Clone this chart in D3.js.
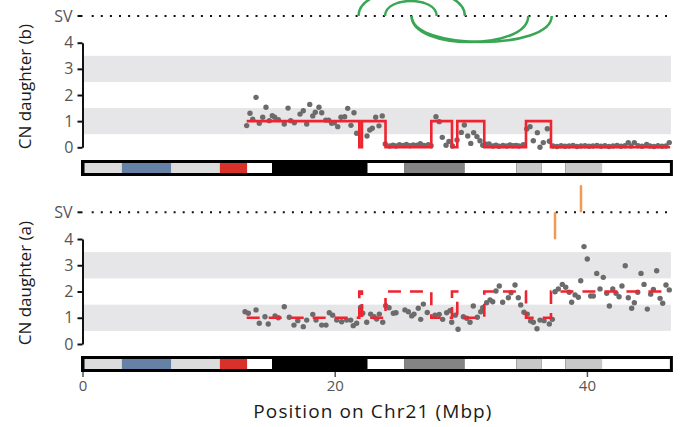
<!DOCTYPE html>
<html>
<head>
<meta charset="utf-8">
<script src="https://cdn.jsdelivr.net/npm/d3@7"></script>
<style>
  body { margin: 0; background: #fff; }
  text { font-family: "Open Sans", sans-serif; }
</style>
</head>
<body>
<svg id="chart" width="680" height="427"></svg>
<script>
const width = 680, height = 427;
const chrLen = 46.7;   // Chr21 length, Mbp

// copy number segments: breakpoints (Mbp) and CN of each segment
const segBreaks = [13.02, 21.95, 22.16, 24.03, 27.66, 29.30, 29.72, 31.86, 35.17, 37.15, 46.6];
const segCnB = [1, 0, 1, 0, 1, 0, 1, 0, 1, 0];
const segCnA = [1, 2, 1, 2, 1, 2, 1, 2, 1, 2];

// binned read depth, daughter (b)
const posB = [13.02, 13.28, 13.50, 13.76, 14.02, 14.29, 14.55, 14.81, 15.05, 15.24, 15.53, 16.00, 16.30, 16.51, 16.80,
  17.25, 17.51, 17.78, 18.02, 18.26, 18.46, 18.75, 18.97, 19.29, 19.52, 19.76, 19.97, 20.24, 20.50, 20.79, 21.03, 21.29,
  21.53, 21.74, 22.56, 22.78, 22.98, 23.25, 23.51, 23.77, 24.01, 24.36, 24.62, 24.86, 25.14, 25.44, 25.69, 25.97, 26.23,
  26.53, 26.79, 27.08, 27.42, 27.64, 28.03, 28.29, 28.53, 28.83, 29.06, 29.34, 29.70, 30.04, 30.28, 30.55, 30.79, 31.02,
  31.28, 31.52, 31.74, 32.00, 32.24, 32.55, 32.79, 33.03, 33.35, 33.64, 33.90, 34.14, 34.38, 34.61, 34.96, 35.23, 35.49,
  35.75, 36.07, 36.28, 36.54, 36.86, 37.02, 37.31, 37.63, 37.95, 38.26, 38.58, 38.90, 39.21, 39.53, 39.85, 40.17, 40.48,
  40.80, 41.12, 41.43, 41.75, 42.07, 42.39, 42.70, 43.02, 43.28, 43.50, 43.76, 44.05, 44.37, 44.74, 45.00, 45.32, 45.64,
  45.96, 46.27, 46.53];
const cnB = [0.83, 1.30, 1.07, 1.91, 0.92, 1.15, 1.53, 1.02, 1.21, 1.15, 1.06, 0.89, 1.50, 1.02, 0.94,
  1.27, 1.40, 0.89, 1.64, 1.20, 1.34, 1.53, 1.32, 1.04, 1.04, 0.92, 0.94, 0.79, 1.15, 1.17, 1.49, 0.84,
  1.32, 0.54, 0.43, 0.66, 0.73, 1.15, 0.82, 1.20, 0.13, 0.05, 0.08, 0.05, 0.10, 0.07, 0.11, 0.06, 0.09,
  0.08, 0.14, 0.07, 0.10, 0.06, 1.17, 0.98, 0.38, 0.08, 0.22, 0.05, 0.28, 0.57, 0.85, 0.43, 0.15, 0.56,
  0.41, 0.25, 0.08, 0.12, 0.13, 0.05, 0.08, 0.04, 0.07, 0.05, 0.09, 0.06, 0.07, 0.05, 0.10, 0.70, 0.79,
  0.25, 0.56, 0.00, 0.18, 0.71, 0.23, 0.05, 0.03, 0.06, 0.04, 0.05, 0.07, 0.03, 0.05, 0.06, 0.04, 0.05,
  0.07, 0.04, 0.06, 0.03, 0.05, 0.07, 0.04, 0.06, 0.18, 0.05, 0.18, 0.06, 0.04, 0.11, 0.05, 0.03, 0.06,
  0.04, 0.05, 0.18];

// binned read depth, daughter (a)
const posA = [12.89, 13.15, 13.76, 14.02, 14.47, 14.73, 15.27, 15.53, 16.00, 16.40, 16.77, 17.07, 17.51, 17.78, 18.26,
  18.52, 18.97, 19.31, 19.57, 19.84, 20.16, 20.55, 20.95, 21.27, 21.47, 21.74, 22.06, 22.22, 22.54, 22.85, 23.12, 23.33,
  23.54, 23.81, 24.04, 24.31, 24.65, 24.86, 25.57, 25.84, 26.11, 26.29, 26.63, 26.82, 27.03, 27.34, 27.95, 28.29, 28.56,
  28.88, 29.14, 29.28, 29.56, 29.78, 30.20, 30.47, 30.73, 30.99, 31.31, 31.58, 31.74, 32.05, 32.32, 32.53, 32.79, 33.05,
  33.32, 33.77, 33.98, 34.30, 34.56, 34.75, 35.01, 35.27, 35.54, 35.75, 36.04, 36.28, 36.60, 37.02, 37.26, 37.47, 37.73,
  38.05, 38.32, 38.60, 38.79, 39.06, 39.32, 39.51, 39.77, 40.03, 40.30, 40.51, 40.78, 41.04, 41.30, 41.57, 41.78, 42.05,
  42.31, 42.55, 42.78, 43.04, 43.28, 43.55, 43.76, 44.03, 44.29, 44.53, 44.79, 45.06, 45.27, 45.53, 45.80, 46.01, 46.27,
  46.53];
const cnA = [1.23, 1.17, 1.30, 0.79, 1.04, 0.76, 1.07, 1.00, 1.42, 1.02, 0.72, 0.89, 0.66, 0.91, 1.13,
  0.91, 0.72, 0.72, 1.19, 1.10, 0.91, 0.85, 0.91, 0.91, 0.70, 0.79, 1.40, 1.17, 0.83, 1.14, 1.04, 0.95,
  1.14, 0.83, 1.46, 1.38, 1.17, 1.19, 1.30, 1.23, 1.07, 1.14, 1.36, 0.94, 1.52, 1.20, 1.10, 1.13, 0.94,
  1.19, 1.27, 0.83, 1.10, 0.56, 1.04, 0.98, 0.83, 1.45, 1.02, 1.23, 1.38, 1.57, 1.68, 1.61, 2.02, 2.21,
  1.59, 1.76, 1.95, 2.25, 1.76, 1.49, 1.21, 1.14, 0.88, 0.83, 0.58, 0.91, 0.89, 0.76, 0.94, 1.99, 2.10,
  2.27, 2.16, 1.97, 1.59, 1.87, 1.78, 2.41, 3.71, 3.24, 1.83, 1.83, 2.69, 2.10, 2.54, 1.93, 1.45, 2.10,
  1.93, 1.80, 2.21, 2.98, 1.76, 1.36, 1.57, 1.97, 2.69, 2.27, 1.33, 1.90, 2.08, 2.79, 1.74, 1.55, 2.25,
  2.06];

// structural variant breakpoints (Mbp)
const svStartB = [21.88, 23.99, 26.10, 26.10];
const svEndB   = [30.33, 28.09, 35.35, 37.21];
const svSideB  = ["up", "up", "down", "down"];
const svStartA = [37.47, 39.53];
const svEndA   = [37.47, 39.53];
const svSideA  = ["down", "up"];

// Chr21 cytobands
const bandStart = [0, 3.13, 7.02, 10.9, 13.05, 15.03, 22.6, 25.5, 30.3, 34.4, 36.4, 38.3, 41.2];
const bandEnd   = [3.13, 7.02, 10.9, 13.05, 15.03, 22.6, 25.5, 30.3, 34.4, 36.4, 38.3, 41.2, 46.7];
const bandStain = ["gvar", "stalk", "gvar", "acen", "gneg", "gpos100", "gneg", "gpos75", "gneg", "gpos50", "gneg", "gpos50", "gneg"];
const stainColor = { gvar: "#dcdcdc", stalk: "#6681a6", acen: "#d9302a", gneg: "#ffffff",
  gpos100: "#000000", gpos75: "#848484", gpos50: "#c8c8c8" };

const yTicks = [0, 1, 2, 3, 4];
const xTicks = [0, 20, 40];

const svg = d3.select("#chart");

const x = d3.scaleLinear()
    .domain([0, chrLen])
    .range([82.5, 671.4]);

const panels = [
  { label: "CN daughter (b)", svY: 16, top: 42.7, bottom: 147.3, ideoY: 160,
    pos: posB, cn: cnB, seg: segCnB, dashed: false,
    sv: { start: svStartB, end: svEndB, side: svSideB }, svColor: "#3aa655" },
  { label: "CN daughter (a)", svY: 212.3, top: 239, bottom: 344, ideoY: 356,
    pos: posA, cn: cnA, seg: segCnA, dashed: true,
    sv: { start: svStartA, end: svEndA, side: svSideA }, svColor: "#f29a50" }
];

panels.forEach(p => {
  const y = d3.scaleLinear().domain([0, 4]).range([p.bottom, p.top]);
  const g = svg.append("g");

  // alternating grey bands
  g.selectAll(".band")
    .data([[0.5, 1.5], [2.5, 3.5]])
    .join("rect")
      .attr("x", x(0) + 1.5)
      .attr("width", x(chrLen) - x(0) - 2)
      .attr("y", d => y(d[1]))
      .attr("height", d => y(d[0]) - y(d[1]))
      .attr("fill", "#e6e6e8");

  // y axis
  const ax = g.append("g")
    .attr("transform", `translate(${x(0)},0)`)
    .call(d3.axisLeft(y).tickValues(yTicks).tickFormat(d3.format("d"))
      .tickSize(5).tickSizeOuter(0).tickPadding(4));
  ax.select(".domain").attr("stroke", "#111").attr("stroke-width", 2);
  ax.selectAll(".tick line").attr("stroke", "#111").attr("stroke-width", 2);
  ax.selectAll(".tick text").attr("fill", "#555").style("font-size", "16px")
    .style("font-family", "'Open Sans', sans-serif");

  g.append("text")
    .attr("transform", `translate(31,${(p.svY + p.bottom) / 2 + 5}) rotate(-90)`)
    .attr("text-anchor", "middle")
    .attr("fill", "#1a1a1a")
    .style("font-size", "17px")
    .text(p.label);

  // SV track
  g.append("line")
    .attr("x1", x(0) - 5).attr("x2", x(0))
    .attr("y1", p.svY).attr("y2", p.svY)
    .attr("stroke", "#111").attr("stroke-width", 2);
  g.append("line")
    .attr("x1", x(0) + 9.2).attr("x2", x(chrLen))
    .attr("y1", p.svY).attr("y2", p.svY)
    .attr("stroke", "#111").attr("stroke-width", 2)
    .attr("stroke-dasharray", "2,7.1");
  g.append("text")
    .attr("x", x(0) - 10).attr("y", p.svY)
    .attr("dy", "0.36em")
    .attr("text-anchor", "end")
    .attr("fill", "#555")
    .style("font-size", "16px")
    .text("SV");

  const svIdx = d3.range(p.sv.start.length);
  g.selectAll(".sv")
    .data(svIdx)
    .join("path")
      .attr("d", i => {
        const x1 = x(p.sv.start[i]), x2 = x(p.sv.end[i]);
        const span = x2 - x1;
        const peak = span === 0 ? 26 : Math.min(0.29 * span, 26);
        const h = (p.sv.side[i] === "up" ? -1 : 1) * peak / 0.75;
        return `M${x1},${p.svY} C${x1},${p.svY + h} ${x2},${p.svY + h} ${x2},${p.svY}`;
      })
      .attr("fill", "none")
      .attr("stroke", p.svColor)
      .attr("stroke-width", 2.5);

  // points
  g.selectAll(".pt")
    .data(p.pos.map((d, i) => [d, p.cn[i]]))
    .join("circle")
      .attr("cx", d => x(d[0]))
      .attr("cy", d => y(d[1]))
      .attr("r", 2.7)
      .attr("fill", "#6b6b6b");

  // copy number step line
  const steps = segBreaks.map((b, i) => [b, p.seg[Math.min(i, p.seg.length - 1)]]);
  const line = d3.line()
    .x(d => x(d[0]))
    .y(d => y(d[1]))
    .curve(d3.curveStepAfter);
  g.append("path")
    .datum(steps)
    .attr("d", line)
    .attr("fill", "none")
    .attr("stroke", "#ee2430")
    .attr("stroke-width", 2.6)
    .attr("stroke-dasharray", p.dashed ? "13,9" : null);

  // ideogram
  g.append("rect")
    .attr("x", x(0) - 1.5)
    .attr("width", x(chrLen) - x(0) + 3)
    .attr("y", p.ideoY)
    .attr("height", 16)
    .attr("fill", "#000");
  g.selectAll(".cyto")
    .data(d3.range(bandStart.length))
    .join("rect")
      .attr("x", i => Math.max(x(bandStart[i]), x(0) + 2))
      .attr("width", i => Math.min(x(bandEnd[i]), x(chrLen) - 1.5) - Math.max(x(bandStart[i]), x(0) + 2))
      .attr("y", p.ideoY + 3)
      .attr("height", 10)
      .attr("fill", i => stainColor[bandStain[i]]);
});

// x axis under the lower ideogram
const xa = svg.append("g")
  .attr("transform", "translate(0,372)")
  .call(d3.axisBottom(x).tickValues(xTicks).tickSize(5).tickPadding(3));
xa.select(".domain").remove();
xa.selectAll(".tick line").attr("stroke", "#555").attr("stroke-width", 1.5);
xa.selectAll(".tick text").attr("fill", "#555").style("font-size", "15px")
  .style("font-family", "'Open Sans', sans-serif");

svg.append("text")
  .attr("x", (x(0) + x(chrLen)) / 2 - 4)
  .attr("y", 418)
  .attr("text-anchor", "middle")
  .attr("fill", "#1a1a1a")
  .style("font-size", "19px")
  .style("letter-spacing", "1.1px")
  .text("Position on Chr21 (Mbp)");
</script>
</body>
</html>
